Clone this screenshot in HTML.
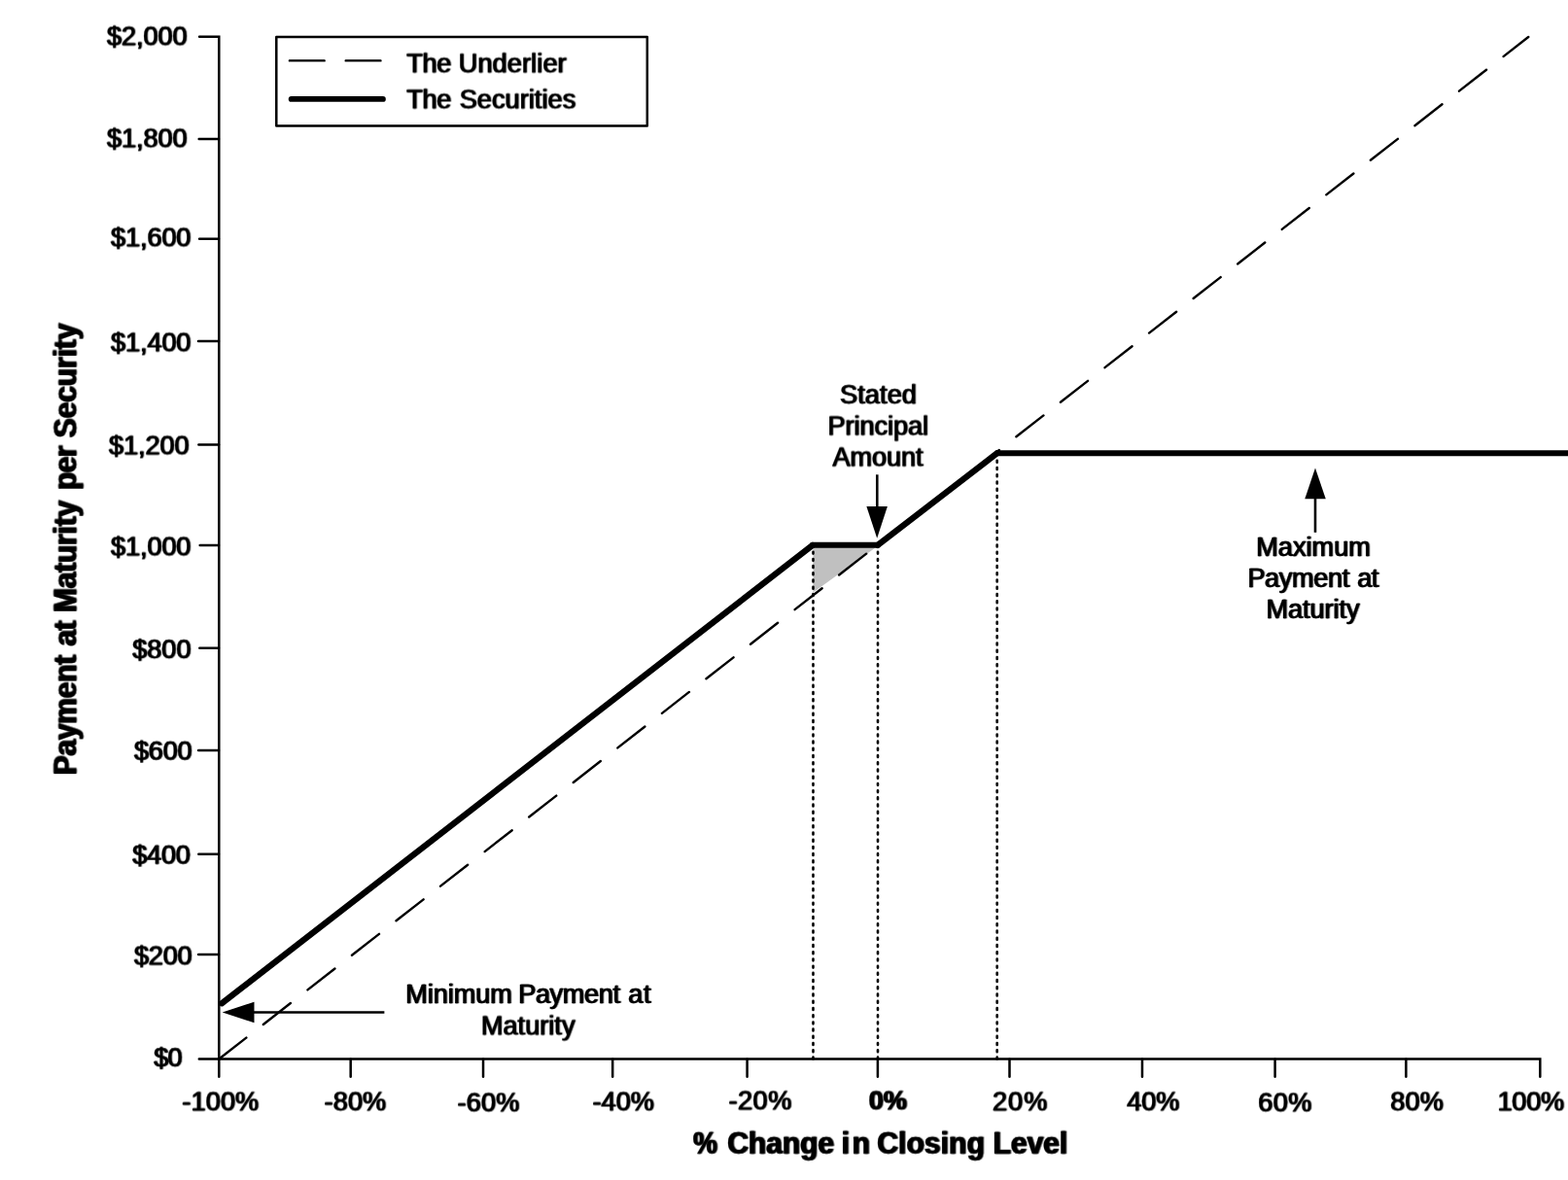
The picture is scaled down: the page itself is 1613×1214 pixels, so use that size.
<!DOCTYPE html>
<html><head><meta charset="utf-8"><title>Payment at Maturity</title>
<style>
html,body{margin:0;padding:0;background:#fff;}
body{width:1613px;height:1214px;overflow:hidden;}
svg{display:block;}
text{font-family:"Liberation Sans",Arial,Helvetica,sans-serif;fill:#000;stroke:#000;stroke-width:0.3;stroke-linejoin:round;}
.b{font-weight:bold;}
.ax .t{fill:none;stroke:#000;stroke-width:2.5;stroke-linecap:round;stroke-linejoin:miter;}
</style></head>
<body>
<svg width="1613" height="1214" viewBox="0 0 1613 1214">
<defs>
<filter id="tb0" x="-5%" y="-30%" width="110%" height="160%" color-interpolation-filters="sRGB"><feOffset in="SourceGraphic" dx="1" dy="0" result="o1"/><feOffset in="SourceGraphic" dx="2" dy="0" result="p"/><feComponentTransfer in="p" result="q"><feFuncA type="linear" slope="0.3"/></feComponentTransfer><feMerge result="m"><feMergeNode in="q"/><feMergeNode in="SourceGraphic"/><feMergeNode in="o1"/></feMerge></filter>
<filter id="tbb0" x="-5%" y="-30%" width="110%" height="160%" color-interpolation-filters="sRGB"><feOffset in="SourceGraphic" dx="1" dy="0" result="o1"/><feOffset in="SourceGraphic" dx="2" dy="0" result="p"/><feComponentTransfer in="p" result="q"><feFuncA type="linear" slope="0.5"/></feComponentTransfer><feMerge result="m"><feMergeNode in="q"/><feMergeNode in="SourceGraphic"/><feMergeNode in="o1"/></feMerge></filter>
<filter id="tb1" x="-5%" y="-30%" width="110%" height="160%" color-interpolation-filters="sRGB"><feOffset in="SourceGraphic" dx="1" dy="0" result="o1"/><feOffset in="SourceGraphic" dx="2" dy="0" result="p"/><feComponentTransfer in="p" result="q"><feFuncA type="linear" slope="0.3"/></feComponentTransfer><feMerge result="m"><feMergeNode in="q"/><feMergeNode in="SourceGraphic"/><feMergeNode in="o1"/></feMerge><feOffset in="m" dx="0" dy="1" result="m1"/><feComposite in="m" in2="m1" operator="arithmetic" k1="0" k2="0.75" k3="0.25" k4="0"/></filter>
<filter id="tbb1" x="-5%" y="-30%" width="110%" height="160%" color-interpolation-filters="sRGB"><feOffset in="SourceGraphic" dx="1" dy="0" result="o1"/><feOffset in="SourceGraphic" dx="2" dy="0" result="p"/><feComponentTransfer in="p" result="q"><feFuncA type="linear" slope="0.5"/></feComponentTransfer><feMerge result="m"><feMergeNode in="q"/><feMergeNode in="SourceGraphic"/><feMergeNode in="o1"/></feMerge><feOffset in="m" dx="0" dy="1" result="m1"/><feComposite in="m" in2="m1" operator="arithmetic" k1="0" k2="0.75" k3="0.25" k4="0"/></filter>
<filter id="tb2" x="-5%" y="-30%" width="110%" height="160%" color-interpolation-filters="sRGB"><feOffset in="SourceGraphic" dx="1" dy="0" result="o1"/><feOffset in="SourceGraphic" dx="2" dy="0" result="p"/><feComponentTransfer in="p" result="q"><feFuncA type="linear" slope="0.3"/></feComponentTransfer><feMerge result="m"><feMergeNode in="q"/><feMergeNode in="SourceGraphic"/><feMergeNode in="o1"/></feMerge><feOffset in="m" dx="0" dy="1" result="m1"/><feComposite in="m" in2="m1" operator="arithmetic" k1="0" k2="0.5" k3="0.5" k4="0"/></filter>
<filter id="tbb2" x="-5%" y="-30%" width="110%" height="160%" color-interpolation-filters="sRGB"><feOffset in="SourceGraphic" dx="1" dy="0" result="o1"/><feOffset in="SourceGraphic" dx="2" dy="0" result="p"/><feComponentTransfer in="p" result="q"><feFuncA type="linear" slope="0.5"/></feComponentTransfer><feMerge result="m"><feMergeNode in="q"/><feMergeNode in="SourceGraphic"/><feMergeNode in="o1"/></feMerge><feOffset in="m" dx="0" dy="1" result="m1"/><feComposite in="m" in2="m1" operator="arithmetic" k1="0" k2="0.5" k3="0.5" k4="0"/></filter>
<filter id="tb3" x="-5%" y="-30%" width="110%" height="160%" color-interpolation-filters="sRGB"><feOffset in="SourceGraphic" dx="1" dy="0" result="o1"/><feOffset in="SourceGraphic" dx="2" dy="0" result="p"/><feComponentTransfer in="p" result="q"><feFuncA type="linear" slope="0.3"/></feComponentTransfer><feMerge result="m"><feMergeNode in="q"/><feMergeNode in="SourceGraphic"/><feMergeNode in="o1"/></feMerge><feOffset in="m" dx="0" dy="1" result="m1"/><feComposite in="m" in2="m1" operator="arithmetic" k1="0" k2="0.25" k3="0.75" k4="0"/></filter>
<filter id="tbb3" x="-5%" y="-30%" width="110%" height="160%" color-interpolation-filters="sRGB"><feOffset in="SourceGraphic" dx="1" dy="0" result="o1"/><feOffset in="SourceGraphic" dx="2" dy="0" result="p"/><feComponentTransfer in="p" result="q"><feFuncA type="linear" slope="0.5"/></feComponentTransfer><feMerge result="m"><feMergeNode in="q"/><feMergeNode in="SourceGraphic"/><feMergeNode in="o1"/></feMerge><feOffset in="m" dx="0" dy="1" result="m1"/><feComposite in="m" in2="m1" operator="arithmetic" k1="0" k2="0.25" k3="0.75" k4="0"/></filter>
</defs>
<rect x="0" y="0" width="1613" height="1214" fill="#fff"/>
<polygon points="836.5,561 904,561 836.5,609.4" fill="#c0c0c0"/>
<g class="ax">
<path class="t" d="M205.1,37.85 L225.3,37.85 L225.3,1107.7"/>
<path class="t" d="M204.8,1089.4 L1584.3,1089.4 L1584.3,1107.7"/>
<line class="t" x1="204.7" y1="142.9" x2="225.0" y2="142.9"/>
<line class="t" x1="205.1" y1="245.7" x2="225.0" y2="245.7"/>
<line class="t" x1="204.0" y1="350.9" x2="225.0" y2="350.9"/>
<line class="t" x1="204.4" y1="457.6" x2="225.0" y2="457.6"/>
<line class="t" x1="205.7" y1="560.9" x2="225.0" y2="560.9"/>
<line class="t" x1="205.3" y1="666.85" x2="225.0" y2="666.85"/>
<line class="t" x1="204.1" y1="772.0" x2="225.0" y2="772.0"/>
<line class="t" x1="204.3" y1="878.8" x2="225.0" y2="878.8"/>
<line class="t" x1="204.1" y1="982.0" x2="225.0" y2="982.0"/>
<line class="t" x1="360.7" y1="1089.7" x2="360.7" y2="1107.7"/>
<line class="t" x1="497.05" y1="1089.7" x2="497.05" y2="1107.7"/>
<line class="t" x1="630.2" y1="1089.7" x2="630.2" y2="1107.7"/>
<line class="t" x1="768.6" y1="1089.7" x2="768.6" y2="1107.7"/>
<line class="t" x1="902.9" y1="1089.7" x2="902.9" y2="1107.7"/>
<line class="t" x1="1038.5" y1="1089.7" x2="1038.5" y2="1107.7"/>
<line class="t" x1="1175.0" y1="1089.7" x2="1175.0" y2="1107.7"/>
<line class="t" x1="1311.6" y1="1089.7" x2="1311.6" y2="1107.7"/>
<line class="t" x1="1446.4" y1="1089.7" x2="1446.4" y2="1107.7"/>
</g>
<g fill="none" stroke="#000">
<rect x="284.3" y="37.9" width="381.5" height="91.6" stroke-width="2.5" stroke-linejoin="round"/>
<line x1="297.9" y1="62.4" x2="400" y2="62.4" stroke-width="2.4" stroke-dasharray="35.8 22" stroke-linecap="round"/>
<line x1="299.7" y1="101.9" x2="393.9" y2="101.9" stroke-width="5.9" stroke-linecap="round"/>
<line x1="225.3" y1="1089.5" x2="1572.3" y2="38" stroke-width="2.4" stroke-dasharray="35.6 22.2" stroke-linecap="round"/>
<g stroke-linecap="round">
<line x1="228.2" y1="1032.2" x2="835.8" y2="561.0" stroke-width="6.3"/>
<line x1="835.8" y1="560.8" x2="903" y2="560.8" stroke-width="5.9"/>
<line x1="903" y1="560.8" x2="1025.7" y2="466.3" stroke-width="6.3"/>
<line x1="1025.7" y1="466.3" x2="1620" y2="466.3" stroke-width="5.9"/>
</g>
<g stroke-width="2.6" stroke-dasharray="1.9 5.32" stroke-linecap="round">
<line x1="836.5" y1="1089.45" x2="836.5" y2="564"/>
<line x1="903.0" y1="1089.45" x2="903.0" y2="564"/>
<line x1="1025.7" y1="1089.45" x2="1025.7" y2="470"/>
</g>
<line x1="902.3" y1="488.3" x2="902.3" y2="522" stroke-width="2.6"/>
<line x1="1353" y1="512" x2="1353" y2="547.8" stroke-width="2.6"/>
<line x1="260" y1="1041.5" x2="395.4" y2="1041.5" stroke-width="2.6"/>
</g>
<g fill="#000">
<polygon points="891.4,521 912.9,521 902.2,553.7"/>
<polygon points="1342.3,513.3 1363.8,513.3 1353,481.6"/>
<polygon points="261.5,1030.8 261.5,1052.2 228.7,1041.5"/>
</g>
<g>
<text transform="translate(0 46) scale(1 1.03)" font-size="27" filter="url(#tb2)"><tspan x="109.58" letter-spacing="-0.03">$2,000</tspan></text>
<text transform="translate(0 151) scale(1 1.03)" font-size="27" filter="url(#tb2)"><tspan x="109.58" letter-spacing="-0.03">$1,800</tspan></text>
<text transform="translate(0 253) scale(1 1.03)" font-size="27" filter="url(#tb2)"><tspan x="113.58" letter-spacing="-0.05">$1,600</tspan></text>
<text transform="translate(0 361) scale(1 1.03)" font-size="27" filter="url(#tb2)"><tspan x="113.58" letter-spacing="-0.05">$1,400</tspan></text>
<text transform="translate(0 467) scale(1 1.03)" font-size="27" filter="url(#tb2)"><tspan x="111.58" letter-spacing="-0.01">$1,200</tspan></text>
<text transform="translate(0 571) scale(1 1.03)" font-size="27" filter="url(#tb2)"><tspan x="113.58" letter-spacing="-0.05">$1,000</tspan></text>
<text transform="translate(0 677) scale(1 1.03)" font-size="27" filter="url(#tb1)"><tspan x="135.68" letter-spacing="0.092">$800</tspan></text>
<text transform="translate(0 781) scale(1 1.03)" font-size="27" filter="url(#tb3)"><tspan x="137.48" letter-spacing="-0.142">$600</tspan></text>
<text transform="translate(0 888) scale(1 1.03)" font-size="27" filter="url(#tb3)"><tspan x="135.68" letter-spacing="-0.108">$400</tspan></text>
<text transform="translate(0 992) scale(1 1.03)" font-size="27" filter="url(#tb2)"><tspan x="137.48" letter-spacing="-0.142">$200</tspan></text>
<text transform="translate(0 1097) scale(1 1.03)" font-size="27" filter="url(#tb1)"><tspan x="157.78" letter-spacing="-0.825">$0</tspan></text>
<text transform="translate(0 1142) scale(1 1.03)" font-size="27" filter="url(#tb2)"><tspan x="186.8" letter-spacing="0.206">-100%</tspan></text>
<text transform="translate(0 1142) scale(1 1.03)" font-size="27" filter="url(#tb2)"><tspan x="333.0" letter-spacing="0.208">-80%</tspan></text>
<text transform="translate(0 1143) scale(1 1.03)" font-size="27" filter="url(#tb2)"><tspan x="470.0" letter-spacing="0.225">-60%</tspan></text>
<text transform="translate(0 1142) scale(1 1.03)" font-size="27" filter="url(#tb2)"><tspan x="609.0" letter-spacing="0.108">-40%</tspan></text>
<text transform="translate(0 1141) scale(1 1.03)" font-size="27" filter="url(#tb2)"><tspan x="748.9" letter-spacing="0.608">-20%</tspan></text>
<text transform="translate(0 1141) scale(1 1.03)" font-size="27" class="b" filter="url(#tbb2)"><tspan x="893.2">0%</tspan></text>
<text transform="translate(0 1142) scale(1 1.03)" font-size="27" filter="url(#tb2)"><tspan x="1020.58" letter-spacing="1.025">20%</tspan></text>
<text transform="translate(0 1142) scale(1 1.03)" font-size="27" filter="url(#tb2)"><tspan x="1158.75" letter-spacing="0.038">40%</tspan></text>
<text transform="translate(0 1143) scale(1 1.03)" font-size="27" filter="url(#tb2)"><tspan x="1293.75" letter-spacing="0.487">60%</tspan></text>
<text transform="translate(0 1142) scale(1 1.03)" font-size="27" filter="url(#tb2)"><tspan x="1429.68" letter-spacing="0.275">80%</tspan></text>
<text transform="translate(0 1142) scale(1 1.03)" font-size="27" filter="url(#tb2)"><tspan x="1539.9" letter-spacing="-0.125">100%</tspan></text>
<text transform="translate(0 74) scale(1 1.0)" font-size="27" filter="url(#tb2)"><tspan x="417.85" letter-spacing="-0.363">The</tspan> <tspan x="471.3" letter-spacing="0.15">Underlier</tspan></text>
<text transform="translate(0 111) scale(1 1.0)" font-size="27" filter="url(#tb2)"><tspan x="417.85" letter-spacing="-0.363">The</tspan> <tspan x="472.18" letter-spacing="0.106">Securities</tspan></text>
<text transform="translate(0 415) scale(1 1.0)" font-size="27" filter="url(#tb1)"><tspan x="863.48" letter-spacing="0.17">Stated</tspan></text>
<text transform="translate(0 447) scale(1 1.0)" font-size="27" filter="url(#tb2)"><tspan x="850.9" letter-spacing="-0.003">Principal</tspan></text>
<text transform="translate(0 479) scale(1 1.0)" font-size="27" filter="url(#tb2)"><tspan x="856.08" letter-spacing="-0.02">Amount</tspan></text>
<text transform="translate(0 572) scale(1 1.0)" font-size="27" filter="url(#tb0)"><tspan x="1291.8" letter-spacing="0.075">Maximum</tspan></text>
<text transform="translate(0 604) scale(1 1.0)" font-size="27" filter="url(#tb0)"><tspan x="1282.9" letter-spacing="-0.296">Payment</tspan> <tspan x="1395.68" letter-spacing="-0.55">at</tspan></text>
<text transform="translate(0 636) scale(1 1.0)" font-size="27" filter="url(#tb0)"><tspan x="1302.0" letter-spacing="-0.004">Maturity</tspan></text>
<text transform="translate(0 1032) scale(1 1.0)" font-size="27" filter="url(#tb0)"><tspan x="416.7" letter-spacing="0.029">Minimum</tspan> <tspan x="532.7" letter-spacing="-0.296">Payment</tspan> <tspan x="645.78" letter-spacing="0.65">at</tspan></text>
<text transform="translate(0 1064) scale(1 1.0)" font-size="27" filter="url(#tb2)"><tspan x="494.5" letter-spacing="0.054">Maturity</tspan></text>
<text transform="translate(0 1186) scale(1 1.02)" font-size="30" class="b" filter="url(#tbb3)"><tspan x="712.42" textLength="24.86" lengthAdjust="spacingAndGlyphs">%</tspan> <tspan x="747.68" letter-spacing="-0.03">Change</tspan> <tspan x="865.0" letter-spacing="2.625">in</tspan> <tspan x="901.78" letter-spacing="0.079">Closing</tspan> <tspan x="1021.12" letter-spacing="-0.075">Level</tspan></text>
<text transform="translate(78.5 0) rotate(-90) scale(1 1.09)" font-size="30" class="b" filter="url(#tbb0)"><tspan x="-797.98" letter-spacing="-0.262">Payment</tspan> <tspan x="-665.28" letter-spacing="-0.55">at</tspan> <tspan x="-630.78" letter-spacing="-0.207">Maturity</tspan> <tspan x="-504.78" letter-spacing="-0.663">per</tspan> <tspan x="-450.92" letter-spacing="-0.104">Security</tspan></text>
</g>
</svg>
</body></html>
